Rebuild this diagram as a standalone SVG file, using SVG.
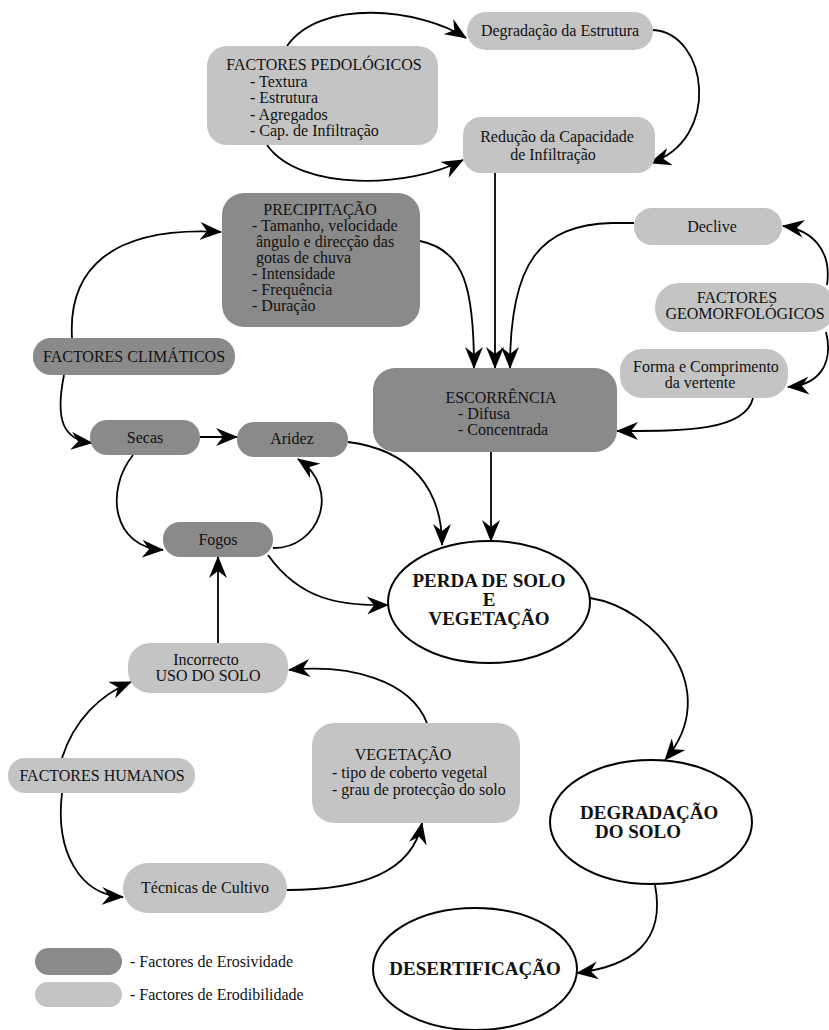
<svg xmlns="http://www.w3.org/2000/svg" width="829" height="1030" viewBox="0 0 829 1030">
<style>
text{font-family:"Liberation Serif","Times New Roman",serif;font-size:16px;fill:#111}
.c{text-anchor:middle}
.b{font-weight:bold;font-size:19px}
.lt{fill:#c4c4c4}
.dk{fill:#8a8a8a}
.el{fill:#fff;stroke:#000;stroke-width:2}
.cn path{fill:none;stroke:#000;stroke-width:1.8;marker-end:url(#ah)}
</style>
<defs>
<marker id="ah" viewBox="0 0 22 18" refX="21" refY="9" markerWidth="22" markerHeight="18" markerUnits="userSpaceOnUse" orient="auto">
<path d="M0,0 L22,9 L0,18 L7,9 Z" fill="#000"/>
</marker>
</defs>
<rect width="829" height="1030" fill="#fff"/>

<g class="cn" id="connectors">
<path d="M287,46 C320,-2 420,8 466,38"/>
<path d="M267,145 C300,192 410,188 463,160"/>
<path d="M653,30 C708,33 722,140 650,163"/>
<path d="M495,173 L495,368"/>
<path d="M420,241 C465,250 474,290 474,368"/>
<path d="M634,223 L612,223 C540,225 510,262 510,368"/>
<path d="M827,285 C832,250 812,230 783,226"/>
<path d="M826,332 C834,365 818,385 788,387"/>
<path d="M753,398 C745,432 680,431 617,431"/>
<path d="M72,338 C68,270 110,226 221,232"/>
<path d="M64,375 C55,420 63,440 92,443"/>
<path d="M200,437 L237,437"/>
<path d="M133,455 C105,490 112,547 163,550"/>
<path d="M273,548 C318,549 343,490 298,459"/>
<path d="M348,442 C412,450 442,490 442,545"/>
<path d="M491,452 L491,541"/>
<path d="M268,555 C300,600 340,606 388,605"/>
<path d="M218,643 L218,557"/>
<path d="M427,723 C410,680 350,664 289,670"/>
<path d="M62,758 C74,720 100,695 131,682"/>
<path d="M62,793 C55,852 80,895 123,897"/>
<path d="M287,890 C362,890 412,872 422,823"/>
<path d="M590,598 C655,608 725,690 665,760"/>
<path d="M655,885 C666,942 632,966 577,973"/>
</g>

<g id="degradacao-estrutura">
<rect class="lt" x="467" y="12" width="186" height="38" rx="19"/>
<text class="c" x="560" y="36">Degradação da Estrutura</text>
</g>
<g id="factores-pedologicos">
<rect class="lt" x="207" y="46" width="231" height="99" rx="20"/>
<text class="c" x="324" y="70">FACTORES PEDOLÓGICOS</text>
<text x="250" y="87">- Textura</text>
<text x="250" y="103">- Estrutura</text>
<text x="250" y="120">- Agregados</text>
<text x="250" y="136">- Cap. de Infiltração</text>
</g>
<g id="reducao-infiltracao">
<rect class="lt" x="463" y="117" width="192" height="56" rx="18"/>
<text class="c" x="557" y="142">Redução da Capacidade</text>
<text class="c" x="553" y="160">de Infiltração</text>
</g>
<g id="precipitacao">
<rect class="dk" x="222" y="193" width="198" height="134" rx="22"/>
<text class="c" x="320" y="215">PRECIPITAÇÃO</text>
<text x="252" y="231">- Tamanho, velocidade</text>
<text x="256" y="247">ângulo e direcção das</text>
<text x="256" y="263">gotas de chuva</text>
<text x="252" y="279">- Intensidade</text>
<text x="252" y="295">- Frequência</text>
<text x="252" y="311">- Duração</text>
</g>
<g id="factores-climaticos">
<rect class="dk" x="33" y="338" width="202" height="37" rx="18"/>
<text class="c" x="134" y="362">FACTORES CLIMÁTICOS</text>
</g>
<g id="secas">
<rect class="dk" x="90" y="420" width="110" height="35" rx="17"/>
<text class="c" x="145" y="443">Secas</text>
</g>
<g id="aridez">
<rect class="dk" x="237" y="422" width="111" height="35" rx="17"/>
<text class="c" x="292" y="444">Aridez</text>
</g>
<g id="escorrencia">
<rect class="dk" x="373" y="368" width="244" height="84" rx="22"/>
<text class="c" x="501" y="403">ESCORRÊNCIA</text>
<text x="458" y="419">- Difusa</text>
<text x="458" y="435">- Concentrada</text>
</g>
<g id="declive">
<rect class="lt" x="634" y="208" width="148" height="37" rx="18"/>
<text class="c" x="712" y="232">Declive</text>
</g>
<g id="factores-geomorfologicos">
<rect class="lt" x="655" y="283" width="180" height="49" rx="24"/>
<text class="c" x="737" y="303">FACTORES</text>
<text class="c" x="745" y="319">GEOMORFOLÓGICOS</text>
</g>
<g id="forma-comprimento">
<rect class="lt" x="620" y="349" width="168" height="49" rx="22"/>
<text class="c" x="706" y="372">Forma e Comprimento</text>
<text class="c" x="700" y="388">da vertente</text>
</g>
<g id="fogos">
<rect class="dk" x="163" y="522" width="110" height="35" rx="17"/>
<text class="c" x="218" y="545">Fogos</text>
</g>
<g id="perda-solo">
<ellipse class="el" cx="489" cy="602" rx="101" ry="61"/>
<text class="c b" x="489" y="587">PERDA DE SOLO</text>
<text class="c b" x="489" y="606">E</text>
<text class="c b" x="489" y="625">VEGETAÇÃO</text>
</g>
<g id="uso-solo">
<rect class="lt" x="128" y="643" width="160" height="50" rx="22"/>
<text class="c" x="206" y="665">Incorrecto</text>
<text class="c" x="208" y="681">USO DO SOLO</text>
</g>
<g id="vegetacao">
<rect class="lt" x="312" y="723" width="208" height="100" rx="22"/>
<text class="c" x="403" y="760">VEGETAÇÃO</text>
<text x="332" y="778">- tipo de coberto vegetal</text>
<text x="332" y="795">- grau de protecção do solo</text>
</g>
<g id="factores-humanos">
<rect class="lt" x="8" y="758" width="187" height="35" rx="17"/>
<text class="c" x="102" y="781">FACTORES HUMANOS</text>
</g>
<g id="tecnicas-cultivo">
<rect class="lt" x="123" y="863" width="164" height="50" rx="25"/>
<text class="c" x="205" y="893">Técnicas de Cultivo</text>
</g>
<g id="degradacao-solo">
<ellipse class="el" cx="651" cy="822" rx="101" ry="62"/>
<text class="b" x="580" y="819">DEGRADAÇÃO</text>
<text class="b" x="595" y="838">DO SOLO</text>
</g>
<g id="desertificacao">
<ellipse class="el" cx="475" cy="969" rx="102" ry="61"/>
<text class="c b" x="475" y="975">DESERTIFICAÇÃO</text>
</g>
<g id="legend">
<rect class="dk" x="35" y="948" width="87" height="27" rx="13.5"/>
<text x="130" y="967">- Factores de Erosividade</text>
<rect class="lt" x="35" y="982" width="87" height="25" rx="12.5"/>
<text x="130" y="1000">- Factores de Erodibilidade</text>
</g>
</svg>
